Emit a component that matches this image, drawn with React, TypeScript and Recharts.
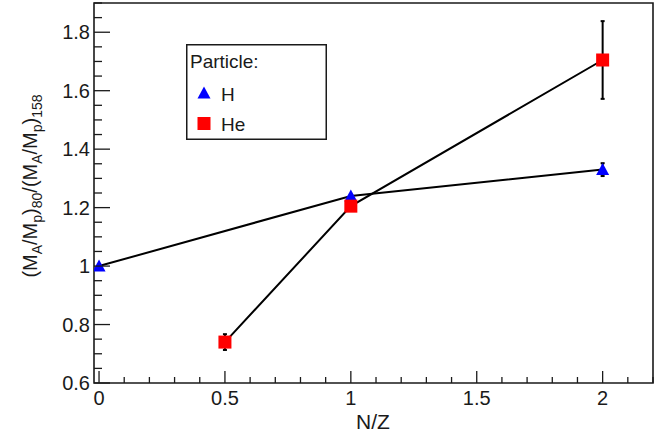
import React from 'react';
import { ScatterChart, Scatter, XAxis, YAxis, ErrorBar, ReferenceArea, Legend } from 'recharts';

const hNZ = [0, 1, 2];
const hRatio = [1.0, 1.24, 1.33];
const hErr = [0, 0, 0.022];

const heNZ = [0.5, 1, 2];
const heRatio = [0.74, 1.205, 1.705];
const heErr = [0.027, 0.015, 0.133];

const seriesNames = ['H', 'He'];
const seriesColors = ['#0000ff', '#ff0000'];

const xMajor = [0, 0.5, 1, 1.5, 2];
const xTicks = [0, 0.1, 0.2, 0.3, 0.4, 0.5, 0.6, 0.7, 0.8, 0.9, 1, 1.1, 1.2, 1.3, 1.4, 1.5, 1.6, 1.7, 1.8, 1.9, 2, 2.1, 2.2];
const yMajor = [0.6, 0.8, 1, 1.2, 1.4, 1.6, 1.8];
const yTicks = [0.6, 0.65, 0.7, 0.75, 0.8, 0.85, 0.9, 0.95, 1, 1.05, 1.1, 1.15, 1.2, 1.25, 1.3, 1.35, 1.4, 1.45, 1.5, 1.55, 1.6, 1.65, 1.7, 1.75, 1.8, 1.85, 1.9];

const xDomain = [-0.02, 2.2];
const yDomain = [0.6, 1.9];

const hData = hNZ.map((x, i) => ({ x, y: hRatio[i], err: hErr[i] }));
const heData = heNZ.map((x, i) => ({ x, y: heRatio[i], err: heErr[i] }));

const FONT = '"Liberation Sans", Arial, Helvetica, sans-serif';
const INK = '#1a1a1a';

const isMajor = (list: number[], v: number) => list.some((m) => Math.abs(m - v) < 1e-6);

const XTick = (props: any) => {
  const { x, y, payload } = props;
  const v = payload.value;
  const major = isMajor(xMajor, v);
  return (
    <g>
      <line x1={x} x2={x} y1={y} y2={y - (major ? 12 : 6)} stroke={INK} strokeWidth={1.3} />
      {major && (
        <text x={x} y={y + 22} textAnchor="middle" fontSize={20} fill={INK} fontFamily={FONT}>
          {String(v)}
        </text>
      )}
    </g>
  );
};

const YTick = (props: any) => {
  const { x, y, payload } = props;
  const v = payload.value;
  const major = isMajor(yMajor, v);
  return (
    <g>
      <line x1={x} x2={x + (major ? 16 : 8)} y1={y} y2={y} stroke={INK} strokeWidth={1.3} />
      {major && (
        <text x={x - 4} y={y} dy="0.36em" textAnchor="end" fontSize={20} fill={INK} fontFamily={FONT}>
          {String(v)}
        </text>
      )}
    </g>
  );
};

const Triangle = (props: any) => {
  const { cx, cy, fill } = props;
  return <polygon points={`${cx},${cy - 6.5} ${cx - 6.5},${cy + 5.5} ${cx + 6.5},${cy + 5.5}`} fill={fill || '#0000ff'} />;
};

const Square = (props: any) => {
  const { cx, cy, fill } = props;
  return <rect x={cx - 6.5} y={cy - 6.5} width={13} height={13} fill={fill || '#ff0000'} />;
};

const YTitle = () => (
  <text
    transform="translate(37,186) rotate(-90)"
    textAnchor="middle"
    fontSize={20}
    fill={INK}
    fontFamily={FONT}
  >
    <tspan>(M</tspan>
    <tspan dy={5} fontSize={14}>A</tspan>
    <tspan dy={-5}>/M</tspan>
    <tspan dy={5} fontSize={14}>p</tspan>
    <tspan dy={-5}>)</tspan>
    <tspan dy={5} fontSize={14}>80</tspan>
    <tspan dy={-5}>/(M</tspan>
    <tspan dy={5} fontSize={14}>A</tspan>
    <tspan dy={-5}>/M</tspan>
    <tspan dy={5} fontSize={14}>p</tspan>
    <tspan dy={-5}>)</tspan>
    <tspan dy={5} fontSize={14}>158</tspan>
  </text>
);

const XTitle = () => (
  <text x={373} y={429} textAnchor="middle" fontSize={21} fill={INK} fontFamily={FONT}>
    N/Z
  </text>
);

const LegendBox = (props: any) => {
  const payload: any[] = props.payload && props.payload.length ? props.payload : seriesNames.map((n, i) => ({ value: n, color: seriesColors[i] }));
  return (
    <svg width={141} height={96} style={{ display: 'block' }}>
      <rect x={0.75} y={0.75} width={139.5} height={94.5} fill="#fff" stroke={INK} strokeWidth={1.5} />
      <text x={4} y={24} fontSize={19} fill={INK} fontFamily={FONT}>
        Particle:
      </text>
      {payload.map((p, i) => {
        const cy = 49 + i * 30.5;
        const name = p.value;
        const color = name === 'H' ? seriesColors[0] : seriesColors[1];
        return (
          <g key={name}>
            {name === 'H' ? <Triangle cx={18} cy={cy} fill={color} /> : <Square cx={18} cy={cy} fill={color} />}
            <text x={35} y={cy + 7.5} fontSize={19} fill={INK} fontFamily={FONT}>
              {name}
            </text>
          </g>
        );
      })}
    </svg>
  );
};

export default function App() {
  return (
    <div style={{ position: 'absolute', left: 0, top: 0, width: 668, height: 436, background: '#fff' }}>
      <ScatterChart width={668} height={436} margin={{ top: 3, right: 15, bottom: 0, left: 0 }}>
        <XAxis
          type="number"
          dataKey="x"
          domain={xDomain}
          ticks={xTicks}
          interval={0}
          allowDataOverflow
          height={53}
          tickSize={0}
          tickMargin={0}
          tickLine={false}
          axisLine={false}
          tick={<XTick />}
          label={{ content: () => <XTitle /> }}
        />
        <YAxis
          type="number"
          dataKey="y"
          domain={yDomain}
          ticks={yTicks}
          interval={0}
          allowDataOverflow
          width={94}
          tickSize={0}
          tickMargin={0}
          tickLine={false}
          axisLine={false}
          tick={<YTick />}
          label={{ content: () => <YTitle /> }}
        />
        <ReferenceArea
          x1={xDomain[0]}
          x2={xDomain[1]}
          y1={yDomain[0]}
          y2={yDomain[1]}
          fill="none"
          fillOpacity={0}
          stroke={INK}
          strokeWidth={1.6}
          strokeOpacity={1}
          ifOverflow="visible"
        />
        <Legend
          layout="horizontal"
          verticalAlign="middle"
          align="center"
          wrapperStyle={{ position: 'absolute', left: 186, top: 44, width: 141, height: 96, margin: 0, padding: 0 }}
          content={<LegendBox />}
        />
        <Scatter
          name={seriesNames[0]}
          data={hData}
          fill={seriesColors[0]}
          shape={<Triangle />}
          line={{ stroke: '#000', strokeWidth: 2 }}
          isAnimationActive={false}
        >
          <ErrorBar dataKey="err" direction="y" width={2} stroke="#000" strokeWidth={2} />
        </Scatter>
        <Scatter
          name={seriesNames[1]}
          data={heData}
          fill={seriesColors[1]}
          shape={<Square />}
          line={{ stroke: '#000', strokeWidth: 2 }}
          isAnimationActive={false}
        >
          <ErrorBar dataKey="err" direction="y" width={2} stroke="#000" strokeWidth={2} />
        </Scatter>
      </ScatterChart>
    </div>
  );
}
